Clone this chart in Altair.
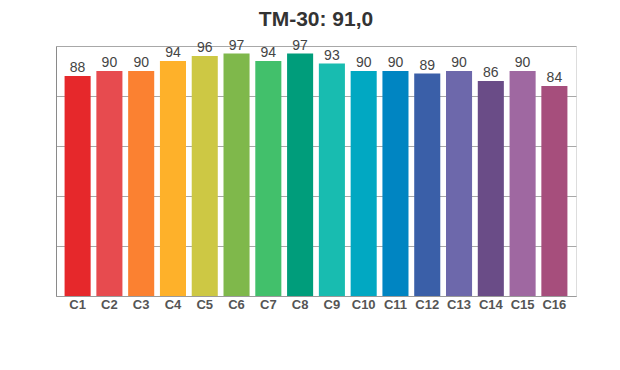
import altair as alt
import pandas as pd

categories = ["C1", "C2", "C3", "C4", "C5", "C6", "C7", "C8",
              "C9", "C10", "C11", "C12", "C13", "C14", "C15", "C16"]
values = [88, 90, 90, 94, 96, 97, 94, 97, 93, 90, 90, 89, 90, 86, 90, 84]
colors = ["#e6282b", "#e74b4f", "#fb8131", "#feb12a", "#cdc844", "#7fb84b",
          "#42c06b", "#009d7b", "#18bcb0", "#01a8c2", "#0085c2", "#3a5fa8",
          "#6d68ab", "#6a4c87", "#9f68a1", "#a64e7c"]
grid_values = [0, 20, 40, 60, 80, 100]
title_text = "TM-30: 91,0"

df = pd.DataFrame({"cat": categories, "val": values})

x = alt.X("cat:N", sort=categories,
          scale=alt.Scale(paddingInner=0.18, paddingOuter=0.27),
          axis=alt.Axis(title=None, labelAngle=0, ticks=False, labelPadding=2,
                        labelFont="Liberation Sans", labelFontSize=13,
                        labelFontWeight="bold", labelColor="#555555",
                        domainColor="#9a9a9a", grid=False))
y = alt.Y("val:Q", scale=alt.Scale(domain=[0, 100], nice=False),
          axis=alt.Axis(title=None, labels=False, ticks=False,
                        values=grid_values, labelOverlap=False,
                        grid=True, gridColor="#a8a8a8", domainColor="#8a8a8a"))

bars = alt.Chart(df).mark_bar().encode(
    x=x, y=y,
    color=alt.Color("cat:N", sort=categories,
                    scale=alt.Scale(domain=categories, range=colors), legend=None),
)
labels = alt.Chart(df).mark_text(
    baseline="bottom", dy=-1, font="Liberation Sans", fontSize=14, color="#444444"
).encode(x=alt.X("cat:N", sort=categories), y="val:Q", text="val:Q")

chart = alt.layer(bars, labels).properties(
    width=520, height=250,
    title=alt.TitleParams(title_text, font="Liberation Sans", fontSize=21,
                          fontWeight="bold", color="#333333", anchor="middle",
                          offset=9),
    autosize=alt.AutoSizeParams(type="none"),
    padding={"left": 48, "top": 38, "right": 36, "bottom": 58},
).configure_view(stroke=None).configure(background="white")

chart.save("out.html", embed_options={"renderer": "svg", "actions": False})
